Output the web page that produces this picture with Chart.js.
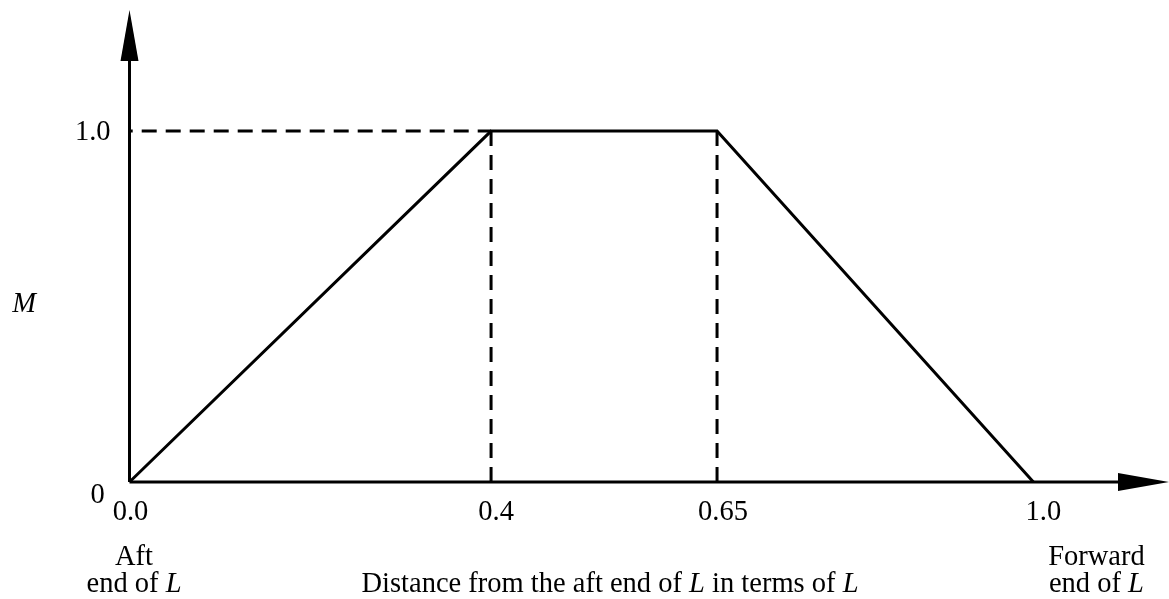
<!DOCTYPE html>
<html>
<head>
<meta charset="utf-8">
<script src="https://cdn.jsdelivr.net/npm/chart.js@4/dist/chart.umd.min.js"></script>
<style>
  html, body { margin: 0; padding: 0; background: #fff; }
  #wrap { width: 1169px; height: 599px; position: relative; }
</style>
</head>
<body>
<div id="wrap"><canvas id="c"></canvas></div>
<script>
// ---- data ----
const positions = [0.0, 0.4, 0.65, 1.0];      // distance from aft end (in L)
const mValues   = [0, 1.0, 1.0, 0];           // M
const guideX    = [0.4, 0.65];                // vertical dashed guides
const plateau   = 1.0;
const xTickValues = [0.0, 0.4, 0.65, 1.0];
const xTickLabels = ['0.0', '0.4', '0.65', '1.0'];
const yTickValues = [0, 1.0];
const yTickLabels = ['0', '1.0'];
const yAxisTitle = 'M';
const xAxisTitle = [['Distance from the aft end of ', false], ['L', true], [' in terms of ', false], ['L', true]];
const leftEndLabel = [[['Aft', false]], [['end of ', false], ['L', true]]];
const rightEndLabel = [[['Forward', false]], [['end of ', false], ['L', true]]];

// ---- style ----
const FONT = '"Liberation Serif", "Times New Roman", serif';
const FS = 28.5;
const xLabelDx = [1, 5, 6, 10];

function drawRuns(ctx, runs, cx, baseline) {
  let total = 0;
  const widths = runs.map(([t, it]) => {
    ctx.font = (it ? 'italic ' : '') + FS + 'px ' + FONT;
    const w = ctx.measureText(t).width; total += w; return w;
  });
  let x = cx - total / 2;
  ctx.textAlign = 'left';
  ctx.textBaseline = 'alphabetic';
  runs.forEach(([t, it], i) => {
    ctx.font = (it ? 'italic ' : '') + FS + 'px ' + FONT;
    ctx.fillText(t, x, baseline);
    x += widths[i];
  });
}

const decor = {
  id: 'decor',
  afterDatasetsDraw(chart) {
    const ctx = chart.ctx;
    const xs = chart.scales.x, ys = chart.scales.y;
    const x0 = xs.getPixelForValue(0), y0 = ys.getPixelForValue(0);
    const top = chart.chartArea.top, right = chart.chartArea.right;
    ctx.save();
    ctx.strokeStyle = '#000'; ctx.fillStyle = '#000'; ctx.lineWidth = 3;
    ctx.setLineDash([]);
    // y axis + arrow
    ctx.beginPath(); ctx.moveTo(x0, y0); ctx.lineTo(x0, top + 45); ctx.stroke();
    ctx.beginPath(); ctx.moveTo(x0, top); ctx.lineTo(x0 - 9, top + 51); ctx.lineTo(x0 + 9, top + 51); ctx.closePath(); ctx.fill();
    // x axis + arrow
    ctx.beginPath(); ctx.moveTo(x0, y0); ctx.lineTo(right - 45, y0); ctx.stroke();
    ctx.beginPath(); ctx.moveTo(right, y0); ctx.lineTo(right - 51, y0 - 9); ctx.lineTo(right - 51, y0 + 9); ctx.closePath(); ctx.fill();

    // tick labels
    ctx.font = FS + 'px ' + FONT;
    ctx.textAlign = 'center'; ctx.textBaseline = 'alphabetic';
    xTickValues.forEach((v, i) => {
      ctx.fillText(xTickLabels[i], xs.getPixelForValue(v) + xLabelDx[i], y0 + 38);
    });
    // y labels
    ctx.textAlign = 'right';
    ctx.fillText(yTickLabels[1], x0 - 19, ys.getPixelForValue(yTickValues[1]) + 9);
    ctx.textAlign = 'center';
    ctx.fillText(yTickLabels[0], x0 - 32, ys.getPixelForValue(yTickValues[0]) + 21);
    // M
    ctx.font = 'italic ' + FS + 'px ' + FONT;
    ctx.fillText(yAxisTitle, 24, ys.getPixelForValue(0.485));
    // end labels
    const xl = xs.getPixelForValue(0) + 4.5, xr = xs.getPixelForValue(1.0) + 63;
    drawRuns(ctx, leftEndLabel[0], xl, y0 + 83);
    drawRuns(ctx, leftEndLabel[1], xl, y0 + 110);
    drawRuns(ctx, rightEndLabel[0], xr, y0 + 83);
    drawRuns(ctx, rightEndLabel[1], xr, y0 + 110);
    drawRuns(ctx, xAxisTitle, 610, y0 + 110);
    ctx.restore();
  }
};

const dashStyle = { borderColor: '#000', borderWidth: 3, borderDash: [15, 9], pointRadius: 0, showLine: true, clip: false, fill: false };
const datasets = [
  { data: positions.map((x, i) => ({ x, y: mValues[i] })), borderColor: '#000', borderWidth: 3, pointRadius: 0, showLine: true, clip: false, fill: false, tension: 0, borderJoinStyle: 'miter' },
  Object.assign({ data: [{ x: 0, y: plateau }, { x: guideX[0], y: plateau }], borderDashOffset: 11.8 }, dashStyle)
];
guideX.forEach(g => datasets.push(Object.assign({ data: [{ x: g, y: plateau }, { x: g, y: 0 }] }, dashStyle)));

new Chart(document.getElementById('c'), {
  type: 'scatter',
  data: { datasets },
  options: {
    responsive: true, maintainAspectRatio: false, animation: false,
    layout: { padding: { left: 129.5, right: 0, top: 10, bottom: 117 } },
    scales: {
      x: { type: 'linear', min: 0, max: 1.15, display: false },
      y: { type: 'linear', min: 0, max: 1.345, display: false }
    },
    plugins: { legend: { display: false }, tooltip: { enabled: false } }
  },
  plugins: [decor]
});
</script>
</body>
</html>
